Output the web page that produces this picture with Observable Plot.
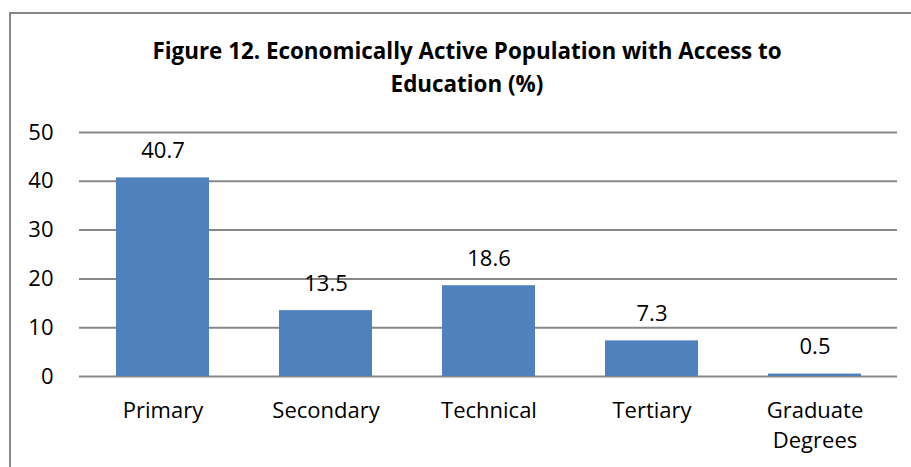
<!DOCTYPE html>
<html>
<head>
<meta charset="utf-8">
<script src="https://cdn.jsdelivr.net/npm/d3@7"></script>
<script src="https://cdn.jsdelivr.net/npm/@observablehq/plot@0.6"></script>
<style>
  html, body { margin: 0; padding: 0; background: #fff; width: 911px; height: 467px; overflow: hidden; }
  #frame { position: absolute; left: 9px; top: 12px; width: 910px; height: 470px; border: 2px solid #878787; box-sizing: border-box; }
  #title { position: absolute; left: 0; top: 34px; width: 934px; text-align: center; font-family: "Open Sans", sans-serif; font-weight: bold; font-size: 22.4px; line-height: 33px; color: #000; }
  #chart { position: absolute; left: 0; top: 0; }
</style>
</head>
<body>
<div id="frame"></div>
<div id="title">Figure 12. Economically Active Population with Access to<br>Education (%)</div>
<div id="chart"></div>
<script>
const categories = ["Primary", "Secondary", "Technical", "Tertiary", "Graduate Degrees"];
const values = [40.7, 13.5, 18.6, 7.3, 0.5];
const labels = ["40.7", "13.5", "18.6", "7.3", "0.5"];
const tickLabels = {"Graduate Degrees": "Graduate\nDegrees"};
const yTicks = [0, 10, 20, 30, 40, 50];

const data = categories.map((c, i) => ({category: c, value: values[i], label: labels[i]}));

const chart = Plot.plot({
  width: 911,
  height: 467,
  marginLeft: 79,
  marginRight: 14,
  marginTop: 132,
  marginBottom: 91,
  style: {fontFamily: "'Open Sans', sans-serif", fontSize: "22px", color: "#000", background: "transparent"},
  x: {domain: categories, paddingInner: 0.43, paddingOuter: 0.215, label: null},
  y: {domain: [0, 50], label: null},
  marks: [
    Plot.gridY(yTicks, {stroke: "#878787", strokeOpacity: 1, strokeWidth: 2}),
    Plot.barY(data, {x: "category", y: "value", fill: "#4F81BD"}),
    Plot.text(data, {x: "category", y: "value", text: "label", dy: -27, fill: "#000", fontSize: 22}),
    Plot.axisY(yTicks, {tickSize: 0, tickPadding: 26, fontSize: 22, fill: "#000"}),
    Plot.axisX({tickSize: 0, tickPadding: 20, fontSize: 22, fill: "#000", lineHeight: 1.36, tickFormat: d => tickLabels[d] ?? d})
  ]
});
document.getElementById("chart").appendChild(chart);
</script>
</body>
</html>
